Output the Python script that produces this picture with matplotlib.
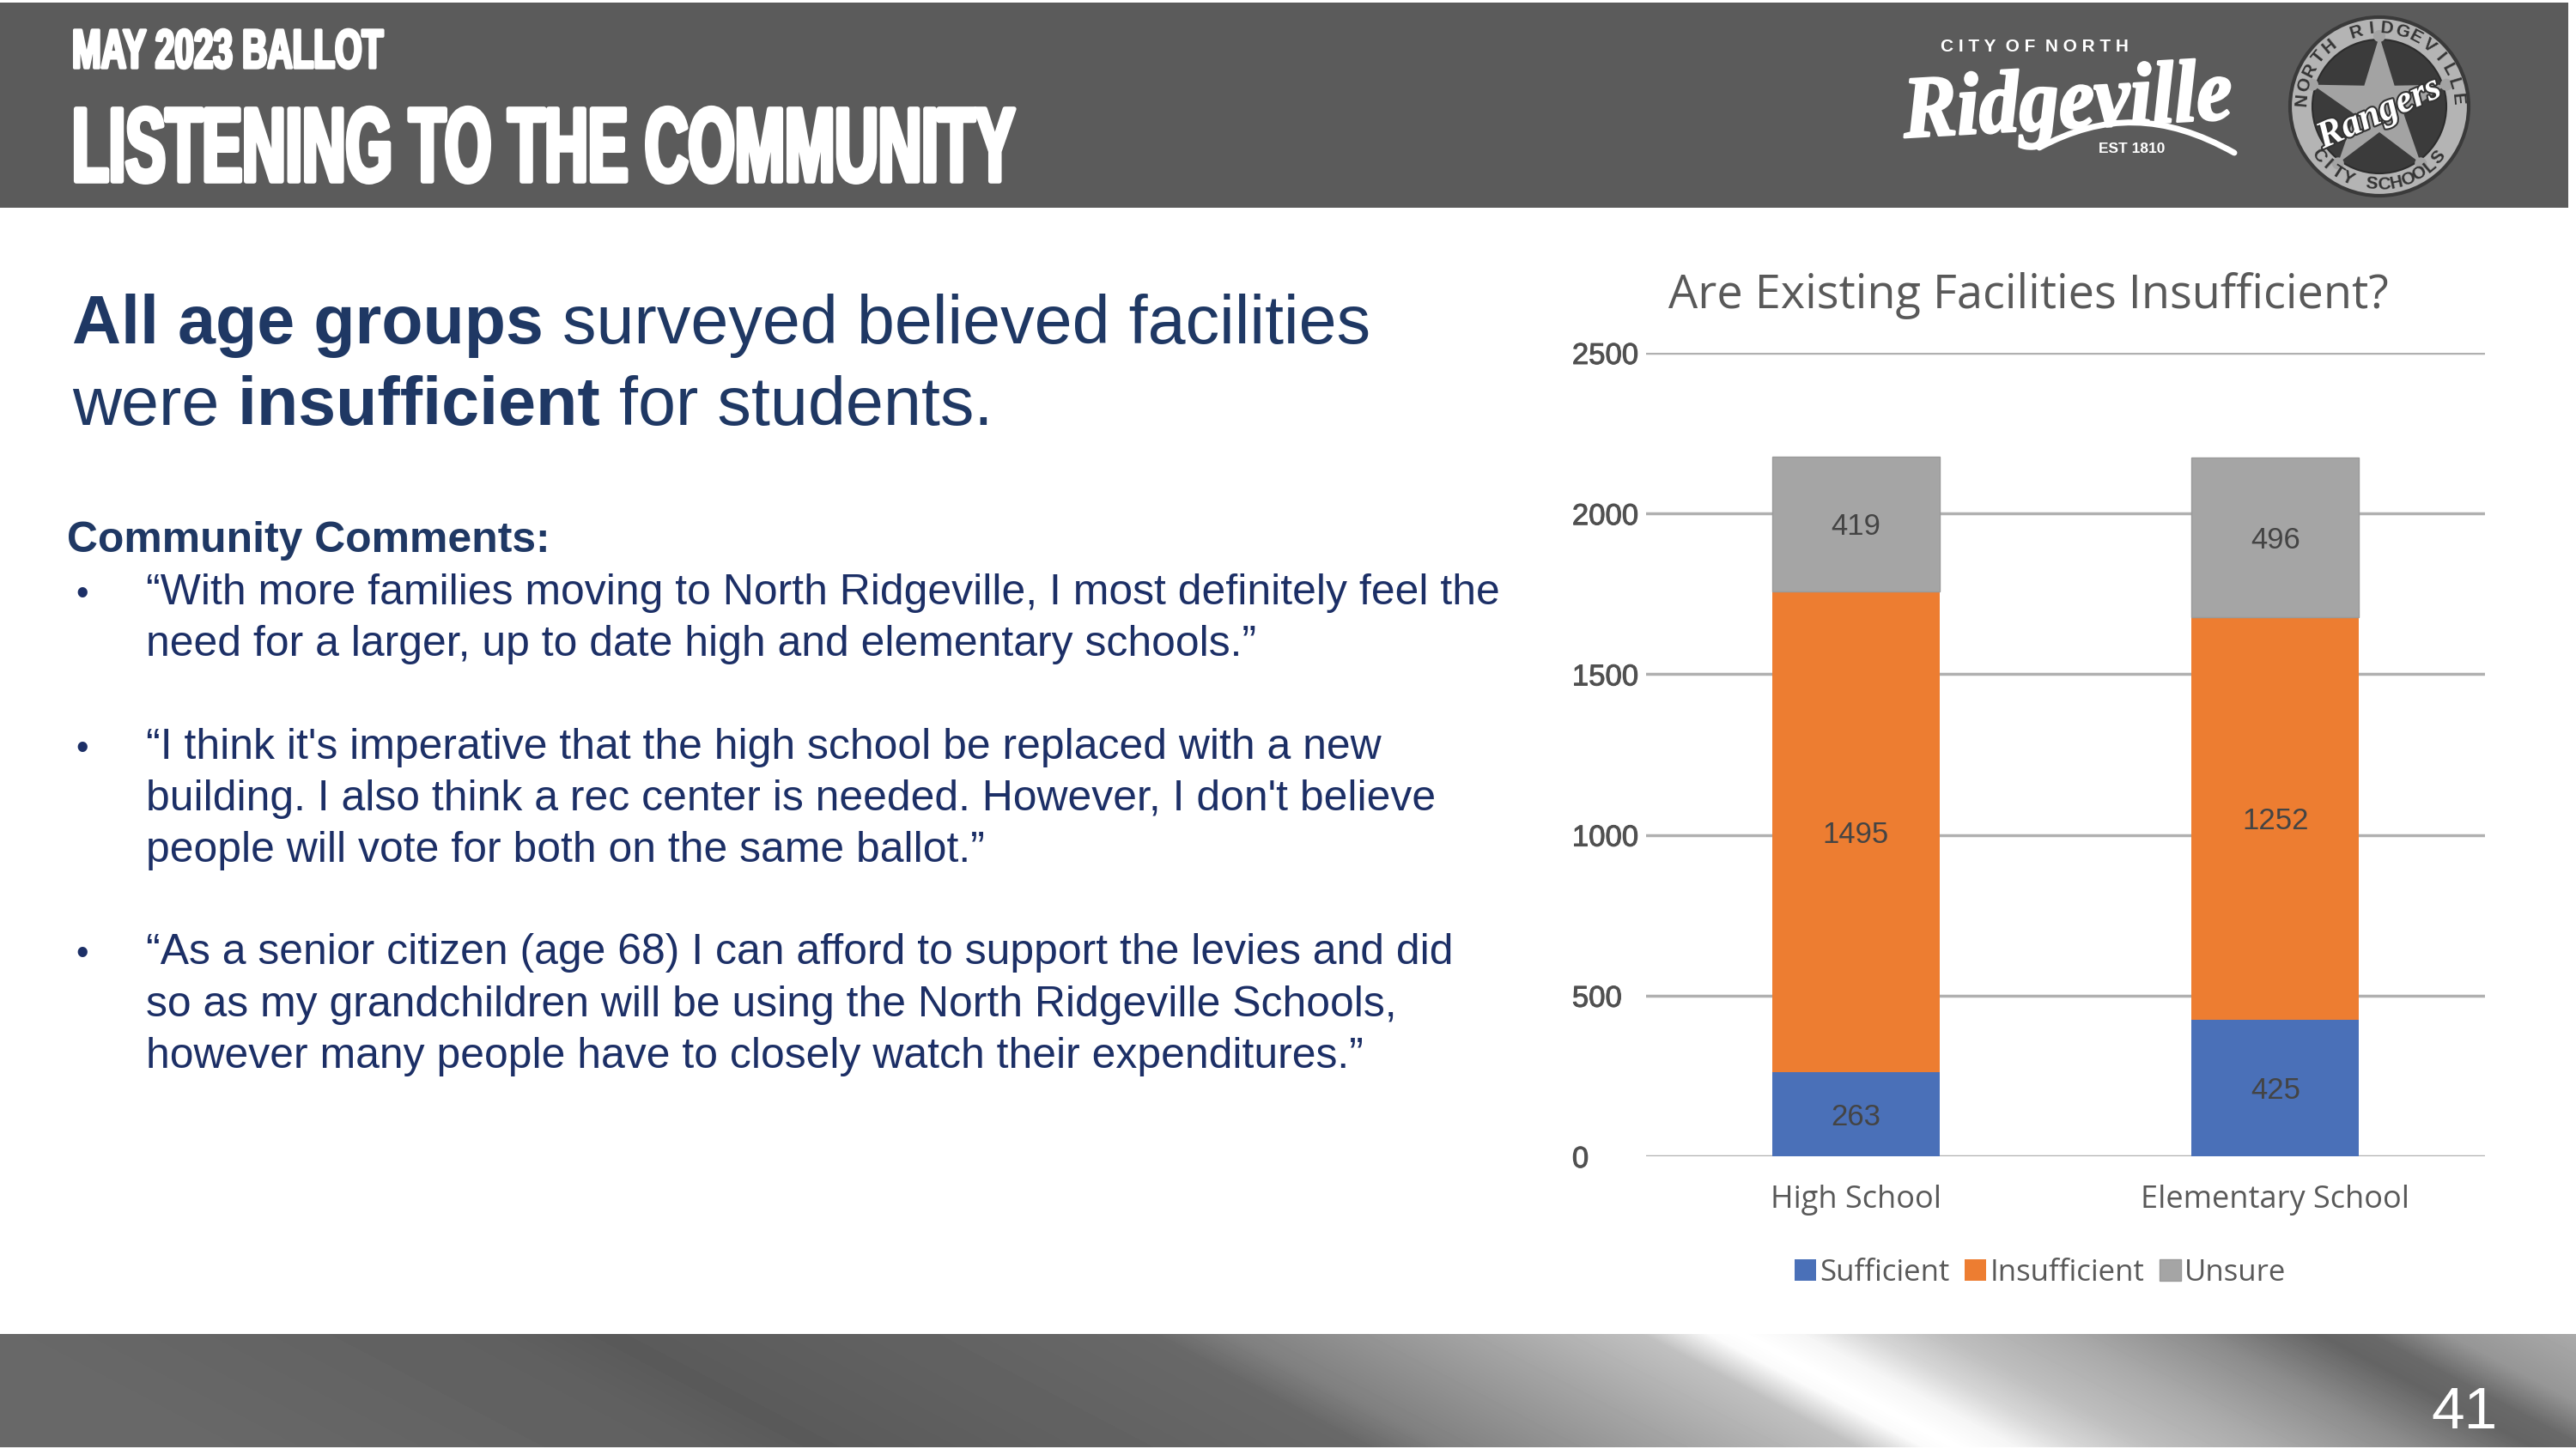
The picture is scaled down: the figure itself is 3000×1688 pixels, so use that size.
# Recreate the "Are Existing Facilities Insufficient?" ballot slide.
import numpy as np
import matplotlib
matplotlib.use("Agg")
import matplotlib.pyplot as plt
import matplotlib.patheffects as pe
from matplotlib.patches import Circle, Polygon, PathPatch, Rectangle
from matplotlib.path import Path
from matplotlib.transforms import Affine2D

# Chart data
schools = ["High School", "Elementary School"]
sufficient = [263, 425]
insufficient = [1495, 1252]
unsure = [419, 496]
y_ticks = [0, 500, 1000, 1500, 2000, 2500]

# Slide text
comment_lines = [
    ("“With more families moving to North Ridgeville, I most definitely feel the", 704, True),
    ("need for a larger, up to date high and elementary schools.”", 764, False),
    ("“I think it's imperative that the high school be replaced with a new", 884, True),
    ("building. I also think a rec center is needed. However, I don't believe", 944, False),
    ("people will vote for both on the same ballot.”", 1004, False),
    ("“As a senior citizen (age 68) I can afford to support the levies and did", 1123, True),
    ("so as my grandchildren will be using the North Ridgeville Schools,", 1184, False),
    ("however many people have to closely watch their expenditures.”", 1244, False),
]

NAVY = "#1f3864"
BODY = "#1c2f66"
BAND = "#5b5b5b"
SANS = "Liberation Sans"
CHART_FONT = "Open Sans"


class SqueezeX(pe.AbstractPathEffect):
    # Squeeze drawn text sideways, the slide heading font is very condensed
    def __init__(self, x0, sx, stroke=0):
        super().__init__()
        self.x0 = x0
        self.sx = sx
        self.stroke = stroke

    def draw_path(self, renderer, gc, tpath, affine, rgbFace=None):
        squeeze = Affine2D().translate(-self.x0, 0).scale(self.sx, 1).translate(self.x0, 0)
        gc0 = renderer.new_gc()
        gc0.copy_properties(gc)
        if self.stroke:
            gc0.set_linewidth(self.stroke)
            gc0.set_foreground(rgbFace)
        renderer.draw_path(gc0, tpath, affine + squeeze, rgbFace)
        gc0.restore()


fig = plt.figure(figsize=(30, 16.88), dpi=100, facecolor="white")

# Background axes in slide pixels
bg = fig.add_axes([0, 0, 1, 1])
bg.set_xlim(0, 3000)
bg.set_ylim(1688, 0)
bg.axis("off")
renderer = fig.canvas.get_renderer()

# Header band
bg.add_patch(Rectangle((0, 3), 2991, 239, color=BAND, lw=0))


def squeezed(text, x, y, size, width, stroke, **kw):
    t = bg.text(x, y, text, color="white", fontsize=size, weight="bold", va="baseline", ha="left", **kw)
    full = t.get_window_extent(renderer).width
    t.set_path_effects([SqueezeX(x, width / full, stroke)])


squeezed("MAY 2023 BALLOT", 84, 79, 46, 362, 2.5, family=SANS)
squeezed("LISTENING TO THE COMMUNITY", 84, 211, 88, 1098, 4, family=SANS)

# Footer band, a slanted metallic sweep
stops_x = [0, 570, 700, 1340, 1435, 1722, 1913, 1990, 2030, 2100, 2170, 2260, 2400, 2560, 2700, 2760, 2850, 3000, 3300]
stops_v = [104, 96, 90, 104, 128, 165, 192, 250, 255, 245, 215, 190, 170, 140, 100, 105, 150, 170, 170]
band_h = 132
grid = np.zeros((band_h, 3000))
for row in range(band_h):
    grid[row] = np.interp(np.arange(3000) - row * 1.9, stops_x, stops_v)
bg.imshow(grid, cmap="gray", vmin=0, vmax=255, extent=(0, 3000, 1686, 1554), aspect="auto", zorder=1)
bg.set_xlim(0, 3000)
bg.set_ylim(1688, 0)
bg.text(2831, 1664, "41", color="white", fontsize=50, family=SANS, va="baseline", zorder=2)


def rich_line(x, y, parts, size, color):
    # Draw bold and regular runs one after another on the same baseline
    for text, weight in parts:
        t = bg.text(x, y, text, fontsize=size, family=SANS, weight=weight, color=color, va="baseline")
        x = t.get_window_extent(renderer).x1


rich_line(84, 400, [("All age groups ", "bold"), ("surveyed believed facilities", "normal")], 56.9, NAVY)
rich_line(84, 495, [("were ", "normal"), ("insufficient ", "bold"), ("for students.", "normal")], 56.9, NAVY)

bg.text(78, 643, "Community Comments:", fontsize=35.9, family=SANS, weight="bold", color=NAVY, va="baseline")
for line, y, bullet in comment_lines:
    bg.text(170, y, line, fontsize=35.9, family=SANS, color=BODY, va="baseline")
    if bullet:
        bg.text(88, y, "•", fontsize=30, family=SANS, color=BODY, va="baseline")

# City logo
bg.text(2260, 60, "C I T Y  O F  N O R T H", fontsize=15, family=SANS, weight="bold", color="white", va="baseline")
squeezed("Ridgeville", 2218, 160, 74, 387, 2, family="Liberation Serif", style="italic",
         rotation=3, rotation_mode="anchor")
swoosh = Path([(2375, 172), (2450, 132), (2520, 132), (2602, 178)],
              [Path.MOVETO, Path.CURVE4, Path.CURVE4, Path.CURVE4])
bg.add_patch(PathPatch(swoosh, fc="none", ec="white", lw=5, capstyle="round"))
bg.text(2444, 174, "EST 1810", fontsize=12.5, family=SANS, weight="bold", color="white", va="center")

# School badge
cx, cy = 2771, 124
bg.add_patch(Circle((cx, cy), 104, fc="#b4b4b4", ec="#3a3a3a", lw=3))
bg.add_patch(Circle((cx, cy), 78, fc="#3b3b3b", ec="#2c2c2c", lw=1.5))
outer = 82
inner = 30
star = []
for i in range(10):
    r = outer if i % 2 == 0 else inner
    a = np.deg2rad(-90 + i * 36)
    star.append((cx + r * np.cos(a), cy + r * np.sin(a)))
bg.add_patch(Polygon(star, fc="#a3a3a3", ec="none"))
for px, py in star[::2]:
    bg.add_patch(Circle((px, py), 7, fc="#a3a3a3", ec="none"))


def ring_text(text, start, step, radius, flip=False):
    # One letter at a time along the badge ring
    for i, ch in enumerate(text):
        deg = start + i * step
        a = np.deg2rad(deg)
        rot = -deg - 90 if not flip else -deg + 90
        bg.text(cx + radius * np.cos(a), cy + radius * np.sin(a), ch, fontsize=15, family=SANS,
                weight="bold", color="#333333", ha="center", va="center", rotation=rot,
                rotation_mode="anchor")


ring_text("NORTH RIDGEVILLE", -175, 11.3, 91)
ring_text("CITY SCHOOLS", 141, -9.1, 91, flip=True)
bg.text(cx, cy + 8, "Rangers", fontsize=32, family="Liberation Serif", style="italic", weight="bold",
        color="white", ha="center", va="center", rotation=24,
        path_effects=[pe.withStroke(linewidth=3, foreground="#333333")])

# Chart axes, placed over the slide in pixels
ax = fig.add_axes([1917 / 3000, 1 - 1347 / 1688, (2894 - 1917) / 3000, (1347 - 411) / 1688], facecolor="none")
x = np.arange(len(schools))
suff = np.array(sufficient)
insuf = np.array(insufficient)
uns = np.array(unsure)
bar_w = 0.4
b1 = ax.bar(x, suff, bar_w, color="#4a70b8", label="Sufficient", zorder=3)
b2 = ax.bar(x, insuf, bar_w, bottom=suff, color="#ed7d31", label="Insufficient", zorder=3)
b3 = ax.bar(x, uns, bar_w, bottom=suff + insuf, color="#a5a5a5", edgecolor="#9a9a9a", lw=1, label="Unsure", zorder=3)
for bars in (b1, b2, b3):
    labels = ax.bar_label(bars, label_type="center", fontsize=25, family=SANS, color="#444444", zorder=4)
    for lab in labels:
        lab.xyann = (0, -2.5)

ax.set_xlim(-0.5, 1.5)
ax.set_ylim(0, 2500)
ax.set_yticks(y_ticks)
ax.set_xticks(x)
ax.set_xticklabels(schools, fontsize=26, family=CHART_FONT, color="#595959")
ax.tick_params(axis="both", length=0)
ax.tick_params(axis="x", pad=24)
ax.tick_params(axis="y", pad=62)
for lab in ax.get_yticklabels():
    lab.set_fontsize(25)
    lab.set_family(SANS)
    lab.set_color("#505050")
    lab.set_ha("left")
    lab.set_path_effects([pe.withStroke(linewidth=0.7, foreground="#505050")])
ax.grid(axis="y", color="#b0b0b0", lw=2.5, zorder=0)
ax.set_axisbelow(True)
for side in ["top", "right", "left", "bottom"]:
    ax.spines[side].set_visible(False)

fig.text(2362 / 3000, 1 - 344 / 1688, "Are Existing Facilities Insufficient?", fontsize=39, family=CHART_FONT,
         color="#595959", ha="center", va="center")

ax.legend(loc="center", bbox_to_anchor=(0.47, -0.145), ncol=3, frameon=False,
          prop={"family": CHART_FONT, "size": 25}, labelcolor="#595959", handlelength=0.72, handleheight=0.72,
          handletextpad=0.12, columnspacing=0.5, borderpad=0, borderaxespad=0)

fig.savefig("out.png", dpi=100)
